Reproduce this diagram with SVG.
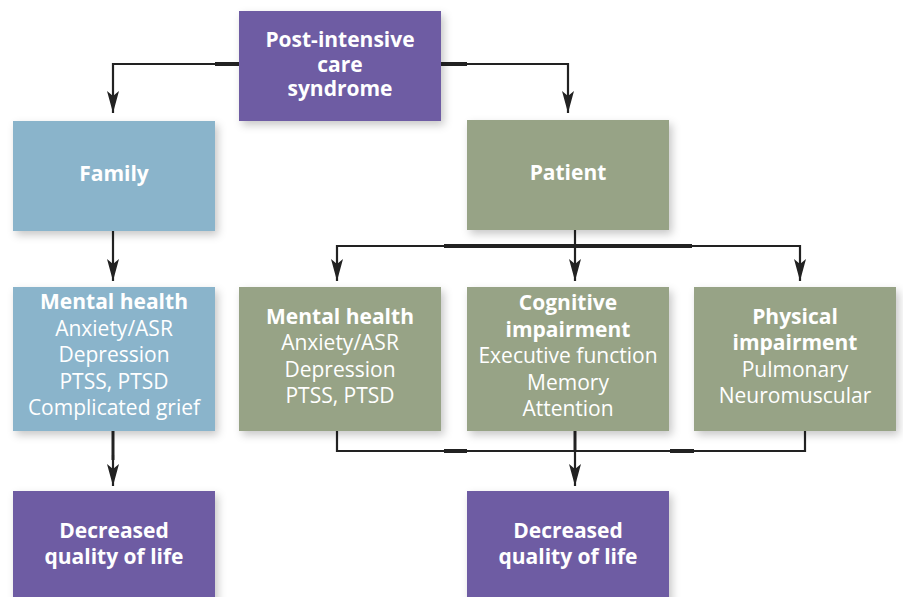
<svg xmlns="http://www.w3.org/2000/svg" width="903" height="597" viewBox="0 0 903 597">
<defs>
<filter id="sh" x="-20%" y="-20%" width="140%" height="140%">
<feDropShadow dx="3" dy="4" stdDeviation="4" flood-color="#000" flood-opacity="0.22"/>
</filter>
<marker id="ah" viewBox="0 0 22 12" refX="22" refY="6" markerWidth="22" markerHeight="12" markerUnits="userSpaceOnUse" orient="auto">
<path d="M0,0 L5,6 L0,12 L22,6 Z" fill="#222"/>
</marker>
<style>
.p{fill:#6E5BA3}
.b{fill:#8AB4CB}
.g{fill:#97A386}
rect{filter:url(#sh)}
text{font-family:"Open Sans","Noto Sans","Liberation Sans",sans-serif;fill:#fff;text-anchor:middle;font-size:21px}
.h{font-weight:bold}
.ln{fill:none;stroke:#222;stroke-width:2.2}
.lnm{fill:none;stroke:#222;stroke-width:2.2;marker-end:url(#ah)}
.th{fill:none;stroke:#222;stroke-width:4}
</style>
</defs>
<rect width="903" height="597" fill="#fff" style="filter:none"/>
<g id="connectors">
<path class="lnm" d="M239,64 H113 V113"/>
<path class="lnm" d="M441,64 H568 V113"/>
<path class="th" d="M215,64 H239 M441,64 H467"/>
<path class="lnm" d="M113,231 V281"/>
<path class="lnm" d="M575,230 V281"/>
<path class="lnm" d="M575,246 H337 V281"/>
<path class="lnm" d="M575,246 H800 V281"/>
<path class="th" d="M444,246 H692"/>
<path class="ln" d="M337,431 V451 H805 V431"/>
<path class="th" d="M444,451 H467 M670,451 H694"/>
<path class="th" d="M575,431 V451" style="stroke-width:3"/>
<path class="lnm" d="M575,451 V486"/>
<path class="th" d="M113,431 V460" style="stroke-width:3"/>
<path class="lnm" d="M113,455 V486"/>
</g>
<g id="pics">
<rect class="p" x="239" y="11" width="202" height="110"/>
<text class="h" x="340" y="47">Post-intensive</text>
<text class="h" x="340" y="72">care</text>
<text class="h" x="340" y="96">syndrome</text>
</g>
<g id="family">
<rect class="b" x="13" y="121" width="202" height="110"/>
<text class="h" x="114" y="181">Family</text>
</g>
<g id="patient">
<rect class="g" x="467" y="120" width="202" height="110"/>
<text class="h" x="568" y="180">Patient</text>
</g>
<g id="family-mental">
<rect class="b" x="13" y="287" width="202" height="144"/>
<text class="h" x="114" y="309">Mental health</text>
<text x="114" y="336">Anxiety/ASR</text>
<text x="114" y="362">Depression</text>
<text x="114" y="389">PTSS, PTSD</text>
<text x="114" y="415">Complicated grief</text>
</g>
<g id="patient-mental">
<rect class="g" x="239" y="287" width="202" height="144"/>
<text class="h" x="340" y="324">Mental health</text>
<text x="340" y="350">Anxiety/ASR</text>
<text x="340" y="377">Depression</text>
<text x="340" y="403">PTSS, PTSD</text>
</g>
<g id="cognitive">
<rect class="g" x="467" y="287" width="202" height="144"/>
<text class="h" x="568" y="310">Cognitive</text>
<text class="h" x="568" y="337">impairment</text>
<text x="568" y="363">Executive function</text>
<text x="568" y="390">Memory</text>
<text x="568" y="416">Attention</text>
</g>
<g id="physical">
<rect class="g" x="694" y="287" width="202" height="144"/>
<text class="h" x="795" y="324">Physical</text>
<text class="h" x="795" y="350">impairment</text>
<text x="795" y="377">Pulmonary</text>
<text x="795" y="403">Neuromuscular</text>
</g>
<g id="family-qol">
<rect class="p" x="13" y="491" width="202" height="115"/>
<text class="h" x="114" y="538">Decreased</text>
<text class="h" x="114" y="564">quality of life</text>
</g>
<g id="patient-qol">
<rect class="p" x="467" y="491" width="202" height="115"/>
<text class="h" x="568" y="538">Decreased</text>
<text class="h" x="568" y="564">quality of life</text>
</g>
</svg>
